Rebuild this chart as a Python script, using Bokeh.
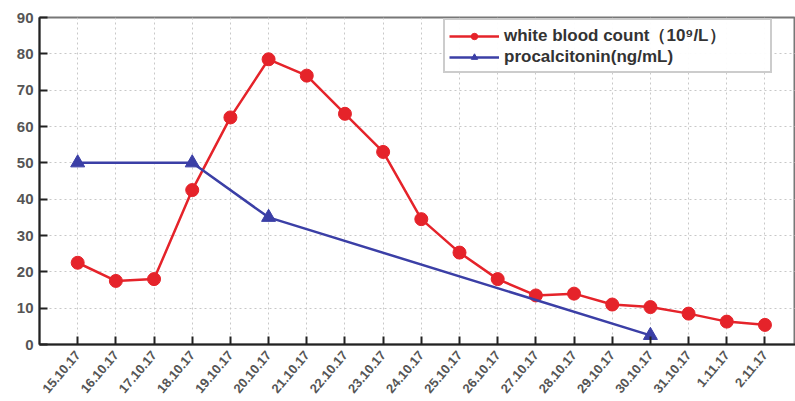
import math
from bokeh.plotting import figure
from bokeh.models import FixedTicker, Legend, LegendItem, Range1d
from bokeh.embed import file_html
from bokeh.resources import INLINE

dates = ["15.10.17", "16.10.17", "17.10.17", "18.10.17", "19.10.17", "20.10.17",
         "21.10.17", "22.10.17", "23.10.17", "24.10.17", "25.10.17", "26.10.17",
         "27.10.17", "28.10.17", "29.10.17", "30.10.17", "31.10.17", "1.11.17", "2.11.17"]
wbc = [22.5, 17.5, 18, 42.5, 62.5, 78.5, 74, 63.5, 53, 34.5, 25.3, 18, 13.5, 14,
       11, 10.3, 8.5, 6.3, 5.4]
pct_dates = ["15.10.17", "18.10.17", "20.10.17", "30.10.17"]
pct = [50, 50, 35, 2.5]
y_ticks = [0, 10, 20, 30, 40, 50, 60, 70, 80, 90]

xi = list(range(len(dates)))
pct_x = [dates.index(d) for d in pct_dates]

RED = "#e5232a"
BLUE = "#3b3fa6"
FONT = "Liberation Sans"

p = figure(width=795, height=401, output_backend="svg", toolbar_location=None,
           x_range=Range1d(-1, 18.8), y_range=Range1d(0, 90),
           min_border_left=39, min_border_top=17, min_border_bottom=57, min_border_right=0)
p.outline_line_color = "#777777"
p.outline_line_width = 2

r1 = p.line(xi, wbc, color=RED, line_width=2.5)
r1m = p.scatter(xi, wbc, marker="circle", size=13, color=RED)
r2 = p.line(pct_x, pct, color=BLUE, line_width=2.5)
r2m = p.scatter(pct_x, pct, marker="triangle", size=14, color=BLUE)

p.xaxis.ticker = FixedTicker(ticks=xi)
p.xaxis.major_label_overrides = {i: d for i, d in enumerate(dates)}
p.xaxis.major_label_orientation = 0.87
p.yaxis.ticker = FixedTicker(ticks=y_ticks)

for ax in (p.xaxis, p.yaxis):
    ax.axis_line_width = 2
    ax.axis_line_color = "#222222"
    ax.major_tick_in = 8
    ax.major_tick_out = 0
    ax.major_tick_line_width = 2
    ax.major_tick_line_color = "#222222"
    ax.minor_tick_line_color = None
    ax.major_label_text_font = FONT
    ax.major_label_text_font_style = "bold"
    ax.major_label_text_color = "#555555"
p.yaxis.major_label_text_font_size = "15px"
p.xaxis.major_label_text_font_size = "13px"
p.xaxis.major_label_standoff = 8
p.yaxis.major_label_standoff = 6

for g in (p.xgrid, p.ygrid):
    g.grid_line_color = "#c8c8c8"
    g.grid_line_dash = "2 3"
    g.grid_line_width = 1

legend = Legend(items=[
    LegendItem(label="white blood count（10⁹/L）", renderers=[r1, r1m]),
    LegendItem(label="procalcitonin(ng/mL)", renderers=[r2, r2m]),
], location=(404, 271))
legend.glyph_width = 50
legend.glyph_height = 16
legend.label_text_font = FONT
legend.label_text_font_style = "bold"
legend.label_text_font_size = "17px"
legend.label_text_color = "#333333"
legend.border_line_color = "#999999"
legend.border_line_width = 2
legend.spacing = 0
legend.padding = 4
legend.margin = 0
legend.label_standoff = 5
legend.label_height = 16
legend.label_width = 262
p.add_layout(legend)

open("out.html", "w").write(file_html(p, INLINE))
